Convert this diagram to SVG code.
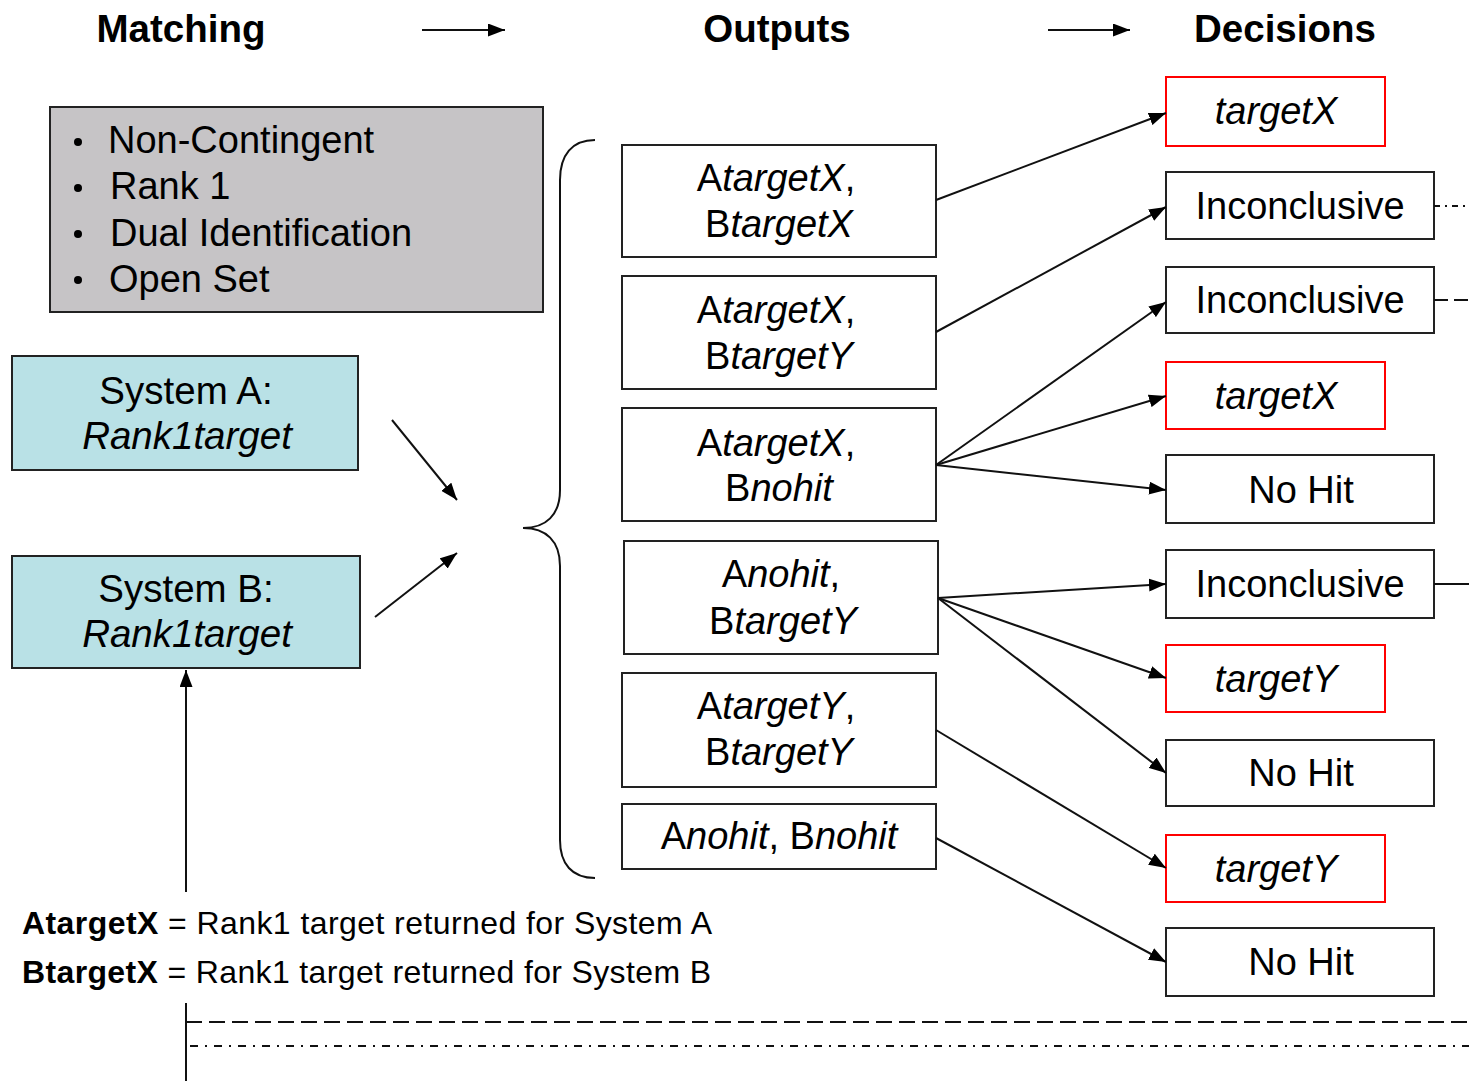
<svg xmlns="http://www.w3.org/2000/svg" width="1469" height="1081" viewBox="0 0 1469 1081">
<style>
text{font-family:"Liberation Sans",Arial,sans-serif;fill:#000}
.h{font-size:38.5px;font-weight:bold;text-anchor:middle}
.b{font-size:38px}
.c{font-size:38px;text-anchor:middle}
.s{font-size:38.5px;text-anchor:middle}
.i{font-style:italic}
.u{font-style:normal}
.box{fill:#fff;stroke:#222;stroke-width:2}
.red{fill:#fff;stroke:#f00;stroke-width:2}
.sys{fill:#b9e1e6;stroke:#222;stroke-width:2}
.ln{stroke:#111;stroke-width:2;fill:none}
.lg{font-size:32px}
</style>
<defs>
<marker id="ah" viewBox="0 0 17 13" refX="17" refY="6.5" markerWidth="17" markerHeight="13" markerUnits="userSpaceOnUse" orient="auto">
<path d="M0,0 L17,6.5 L0,13 Z" fill="#000"/>
</marker>
</defs>
<rect width="1469" height="1081" fill="#fff"/>

<g id="headers">
<text class="h" x="181" y="42">Matching</text>
<text class="h" x="777" y="42">Outputs</text>
<text class="h" x="1285" y="42">Decisions</text>
</g>

<g id="criteria">
<rect x="50" y="107" width="493" height="205" fill="#c6c4c6" stroke="#222" stroke-width="2"/>
<circle cx="78" cy="142" r="4"/>
<circle cx="78" cy="188" r="4"/>
<circle cx="78" cy="234" r="4"/>
<circle cx="78" cy="280" r="4"/>
<text class="b" x="108" y="153">Non-Contingent</text>
<text class="b" x="110" y="199">Rank 1</text>
<text class="b" x="110" y="246">Dual Identification</text>
<text class="b" x="109" y="292">Open Set</text>
</g>

<g id="systemA">
<rect class="sys" x="12" y="356" width="346" height="114"/>
<text class="s" x="186" y="404">System A:</text>
<text class="s i" x="187" y="449">Rank1target</text>
</g>
<g id="systemB">
<rect class="sys" x="12" y="556" width="348" height="112"/>
<text class="s" x="186" y="602">System B:</text>
<text class="s i" x="187" y="647">Rank1target</text>
</g>

<g id="out1">
<rect class="box" x="622" y="145" width="314" height="112"/>
<text class="c i" x="776" y="191"><tspan class="u">A</tspan>targetX<tspan class="u">,</tspan></text>
<text class="c i" x="779" y="237"><tspan class="u">B</tspan>targetX</text>
</g>
<g id="out2">
<rect class="box" x="622" y="276" width="314" height="113"/>
<text class="c i" x="776" y="323"><tspan class="u">A</tspan>targetX<tspan class="u">,</tspan></text>
<text class="c i" x="779" y="369"><tspan class="u">B</tspan>targetY</text>
</g>
<g id="out3">
<rect class="box" x="622" y="408" width="314" height="113"/>
<text class="c i" x="776" y="456"><tspan class="u">A</tspan>targetX<tspan class="u">,</tspan></text>
<text class="c i" x="779" y="501"><tspan class="u">B</tspan>nohit</text>
</g>
<g id="out4">
<rect class="box" x="624" y="541" width="314" height="113"/>
<text class="c i" x="781" y="587"><tspan class="u">A</tspan>nohit<tspan class="u">,</tspan></text>
<text class="c i" x="783" y="634"><tspan class="u">B</tspan>targetY</text>
</g>
<g id="out5">
<rect class="box" x="622" y="673" width="314" height="114"/>
<text class="c i" x="776" y="719"><tspan class="u">A</tspan>targetY<tspan class="u">,</tspan></text>
<text class="c i" x="779" y="765"><tspan class="u">B</tspan>targetY</text>
</g>
<g id="out6">
<rect class="box" x="622" y="804" width="314" height="65"/>
<text class="c i" x="779" y="849"><tspan class="u">A</tspan>nohit<tspan class="u">, B</tspan>nohit</text>
</g>

<g id="dec1"><rect class="red" x="1166" y="77" width="219" height="69"/><text class="c i" x="1276" y="124">targetX</text></g>
<g id="dec2"><rect class="box" x="1166" y="172" width="268" height="67"/><text class="c" x="1300" y="219">Inconclusive</text></g>
<g id="dec3"><rect class="box" x="1166" y="267" width="268" height="66"/><text class="c" x="1300" y="313">Inconclusive</text></g>
<g id="dec4"><rect class="red" x="1166" y="362" width="219" height="67"/><text class="c i" x="1276" y="409">targetX</text></g>
<g id="dec5"><rect class="box" x="1166" y="455" width="268" height="68"/><text class="c" x="1301" y="503">No Hit</text></g>
<g id="dec6"><rect class="box" x="1166" y="550" width="268" height="68"/><text class="c" x="1300" y="597">Inconclusive</text></g>
<g id="dec7"><rect class="red" x="1166" y="645" width="219" height="67"/><text class="c i" x="1276" y="692">targetY</text></g>
<g id="dec8"><rect class="box" x="1166" y="740" width="268" height="66"/><text class="c" x="1301" y="786">No Hit</text></g>
<g id="dec9"><rect class="red" x="1166" y="835" width="219" height="67"/><text class="c i" x="1276" y="882">targetY</text></g>
<g id="dec10"><rect class="box" x="1166" y="928" width="268" height="68"/><text class="c" x="1301" y="975">No Hit</text></g>

<g id="legend">
<text class="lg" x="22" y="934" textLength="690" lengthAdjust="spacing"><tspan font-weight="bold">AtargetX</tspan> = Rank1 target returned for System A</text>
<text class="lg" x="22" y="983" textLength="689" lengthAdjust="spacing"><tspan font-weight="bold">BtargetX</tspan> = Rank1 target returned for System B</text>
</g>

<g id="connectors">
<line class="ln" x1="422" y1="30" x2="505" y2="30" marker-end="url(#ah)"/>
<line class="ln" x1="1048" y1="30" x2="1130" y2="30" marker-end="url(#ah)"/>
<line class="ln" x1="392" y1="420" x2="457" y2="500" marker-end="url(#ah)"/>
<line class="ln" x1="375" y1="617" x2="457" y2="553" marker-end="url(#ah)"/>
<line class="ln" x1="186" y1="892" x2="186" y2="670" marker-end="url(#ah)"/>
<path class="ln" d="M595,140 C572,140 560,155 560,180 L560,490 C560,515 546,528 523,528 C546,528 560,541 560,566 L560,840 C560,864 572,878 595,878"/>
<line class="ln" x1="936" y1="200" x2="1166" y2="113" marker-end="url(#ah)"/>
<line class="ln" x1="936" y1="332" x2="1166" y2="207" marker-end="url(#ah)"/>
<line class="ln" x1="936" y1="465" x2="1166" y2="302" marker-end="url(#ah)"/>
<line class="ln" x1="936" y1="465" x2="1166" y2="396" marker-end="url(#ah)"/>
<line class="ln" x1="936" y1="465" x2="1166" y2="490" marker-end="url(#ah)"/>
<line class="ln" x1="938" y1="598" x2="1166" y2="584" marker-end="url(#ah)"/>
<line class="ln" x1="938" y1="598" x2="1166" y2="678" marker-end="url(#ah)"/>
<line class="ln" x1="938" y1="598" x2="1166" y2="773" marker-end="url(#ah)"/>
<line class="ln" x1="936" y1="730" x2="1166" y2="868" marker-end="url(#ah)"/>
<line class="ln" x1="936" y1="838" x2="1166" y2="962" marker-end="url(#ah)"/>
<line class="ln" x1="1434" y1="206" x2="1469" y2="206" stroke-dasharray="6,5,2,5"/>
<line class="ln" x1="1434" y1="300" x2="1469" y2="300" stroke-dasharray="14,6"/>
<line class="ln" x1="1434" y1="584" x2="1469" y2="584"/>
<line class="ln" x1="186" y1="1003" x2="186" y2="1081"/>
<line class="ln" x1="186" y1="1022" x2="1469" y2="1022" stroke-dasharray="16,7" stroke-width="3"/>
<line class="ln" x1="190" y1="1046" x2="1469" y2="1046" stroke-dasharray="8,7,2,7" stroke-width="3"/>
</g>
</svg>
